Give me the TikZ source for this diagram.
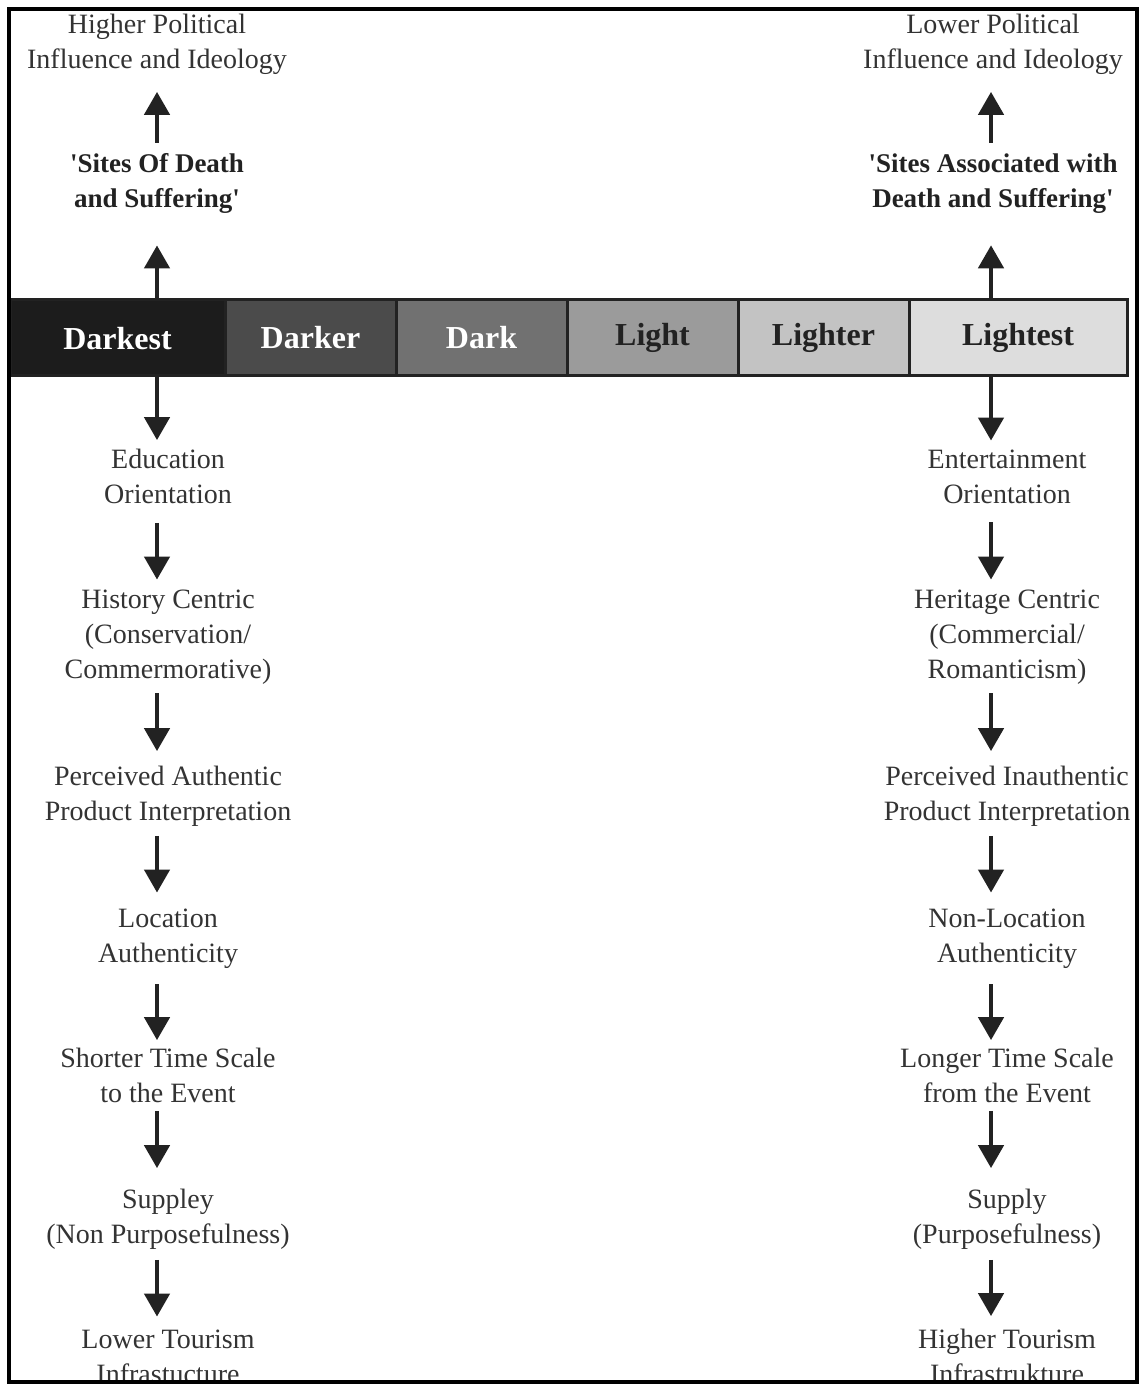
\documentclass[tikz,border=0pt]{standalone}
\usepackage{fontspec}
\setmainfont{Liberation Serif}
\usepackage{tikz}
\usetikzlibrary{arrows.meta,positioning}
\definecolor{inkgray}{HTML}{333333}
\definecolor{inkdark}{HTML}{222222}
\definecolor{shadeA}{HTML}{1C1C1C}
\definecolor{shadeB}{HTML}{4B4B4B}
\definecolor{shadeC}{HTML}{717171}
\definecolor{shadeD}{HTML}{9B9B9B}
\definecolor{shadeE}{HTML}{C3C3C3}
\definecolor{shadeF}{HTML}{DDDDDD}
\tikzset{%
	note/.style     = {text=inkgray, align=center, inner sep=0pt, font=\fontsize{14}{17.5}\selectfont, execute at begin node=\strut, execute at end node=\strut},
	claim/.style    = {note, text=inkdark, font=\fontsize{13.5}{17.5}\selectfont\bfseries},
	cell/.style     = {draw=inkdark, line width=1.5pt, outer sep=0pt, inner sep=0pt, minimum height=38pt, minimum width=85.5pt, font=\fontsize{16}{18}\selectfont\bfseries},
	arrow/.style    = {line width=2.25pt, draw=inkdark, -{Triangle[width=12.5pt,length=11.5pt]}},
}

\begin{document}
\begin{tikzpicture}[x=0.5pt,y=-0.5pt]
	\useasboundingbox (0,0) rectangle (1140,1384);
	\begin{scope}
	\clip (8.5,9) rectangle (1137,1381.5);
	\coordinate (colL) at (157,0);
	\coordinate (colR) at (991,0);
	
	% the scale
	\node [cell, anchor=north west, fill=shadeA, text=white, minimum width=107.5pt, text depth=0pt] (darkest) at (10,300) {Darkest};
	\node [cell, fill=shadeB, text=white, right=0pt of darkest] (darker) {Darker};
	\node [cell, fill=shadeC, text=white, right=0pt of darker] (dark) {Dark};
	\node [cell, fill=shadeD, text=inkdark, right=0pt of dark] (light) {Light};
	\node [cell, fill=shadeE, text=inkdark, right=0pt of light] (lighter) {Lighter};
	\node [cell, fill=shadeF, text=inkdark, minimum width=109pt, right=0pt of lighter] (lightest) {Lightest};
	
	% darkest side
	\node [note] (L0) at (157,46.5) {Higher Political\\Influence and Ideology};
	\node [claim] (L1) at (157,185.75) {\textquotesingle Sites Of Death\\and Suffering\textquotesingle};
	\node [note] (L2) at (168,481.5) {Education\\Orientation};
	\node [note] (L3) at (168,639) {History Centric\\(Conservation/\\Commermorative)};
	\node [note] (L4) at (168,798.5) {Perceived Authentic\\Product Interpretation};
	\node [note] (L5) at (168,940.5) {Location\\Authenticity};
	\node [note] (L6) at (168,1080.5) {Shorter Time Scale\\to the Event};
	\node [note] (L7) at (168,1221.5) {Suppley\\(Non Purposefulness)};
	\node [note] (L8) at (168,1361.5) {Lower Tourism\\Infrastucture};
	
	% lightest side
	\node [note] (R0) at (993,46.5) {Lower Political\\Influence and Ideology};
	\node [claim] (R1) at (993,185.75) {\textquotesingle Sites Associated with\\Death and Suffering\textquotesingle};
	\node [note] (R2) at (1007,481.5) {Entertainment\\Orientation};
	\node [note] (R3) at (1007,639) {Heritage Centric\\(Commercial/\\Romanticism)};
	\node [note] (R4) at (1007,798.5) {Perceived Inauthentic\\Product Interpretation};
	\node [note] (R5) at (1007,940.5) {Non-Location\\Authenticity};
	\node [note] (R6) at (1007,1080.5) {Longer Time Scale\\from the Event};
	\node [note] (R7) at (1007,1221.5) {Supply\\(Purposefulness)};
	\node [note] (R8) at (1007,1361.5) {Higher Tourism\\Infrastrukture};
	
	\foreach \c/\e in {L/darkest,R/lightest} {
		\draw[arrow, shorten >=13.5pt] (\e.north -| col\c) -- (\c1.south -| col\c);
		\draw[arrow, shorten <=5.25pt, shorten >=6.25pt] (\c1.north -| col\c) -- (\c0.south -| col\c);
		\draw[arrow, shorten >=4.25pt] (\e.south -| col\c) -- (\c2.north -| col\c);
		\draw[arrow, shorten <=4.25pt, shorten >=4.75pt] (\c2.south -| col\c) -- (\c3.north -| col\c);
		\draw[arrow, shorten <=2.25pt, shorten >=7.25pt] (\c3.south -| col\c) -- (\c4.north -| col\c);
		\draw[arrow, shorten <=2.25pt, shorten >=7.75pt] (\c4.south -| col\c) -- (\c5.north -| col\c);
		\draw[arrow, shorten <=5.75pt, shorten >=3.75pt] (\c5.south -| col\c) -- (\c6.north -| col\c);
		\draw[arrow, shorten <=-1.25pt, shorten >=10.25pt] (\c6.south -| col\c) -- (\c7.north -| col\c);
		\draw[arrow, shorten <=2.75pt, shorten >=6.25pt] (\c7.south -| col\c) -- (\c8.north -| col\c);
	}
	\end{scope}
	\draw[line width=2pt] (8.5,9) rectangle (1137,1381.5);
\end{tikzpicture}
\end{document}
